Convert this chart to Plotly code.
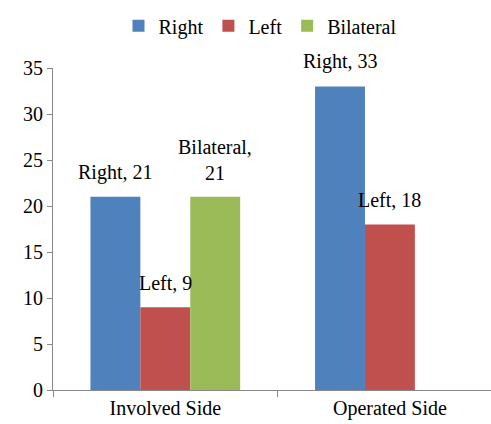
import plotly.graph_objects as go

categories = ["Involved Side", "Operated Side"]
series_names = ["Right", "Left", "Bilateral"]
right_vals = [21, 33]
left_vals = [9, 18]
bilateral_vals = [21, None]
colors = ["#4F81BD", "#C0504D", "#9BBB59"]

font_family = "Liberation Serif, Times New Roman, serif"

fig = go.Figure()
all_vals = [right_vals, left_vals, bilateral_vals]
for name, vals, col in zip(series_names, all_vals, colors):
    fig.add_trace(go.Bar(
        x=categories, y=vals, name=name, marker_color=col,
        marker_line_width=0, hoverinfo="skip",
    ))

# data labels (Excel-style "Series, value"), placed over each bar
bar_px = 50          # bar width in pixels
n = len(series_names)
for i, (name, vals) in enumerate(zip(series_names, all_vals)):
    xshift = (i - (n - 1) / 2) * bar_px
    for cat, v in zip(categories, vals):
        if v is None:
            continue
        sep = ",<br>" if name == "Bilateral" else ", "
        fig.add_annotation(
            x=cat, y=v, text=name + sep + str(v), showarrow=False,
            xshift=xshift, yshift=11,
            yanchor="bottom", xanchor="center",
            font=dict(family=font_family, size=20, color="black"),
        )

fig.update_layout(
    width=491, height=424,
    margin=dict(l=53, r=0, t=68, b=34),
    plot_bgcolor="white", paper_bgcolor="white",
    barmode="group", bargap=1/3, bargroupgap=0,
    font=dict(family=font_family, size=20, color="black"),
    legend=dict(orientation="h", x=0.4726, xanchor="center", y=0.985, yanchor="top",
                yref="container", font=dict(family=font_family, size=20),
                itemwidth=30, traceorder="normal"),
    showlegend=True,
)
fig.update_xaxes(range=[-0.5, 1.45], showline=True, linecolor="#888888", linewidth=1,
                 ticks="outside", tickson="boundaries", ticklen=6, tickcolor="#888888",
                 showgrid=False, tickfont=dict(family=font_family, size=20))
fig.update_yaxes(range=[0, 35], dtick=5, showline=True, linecolor="#888888", linewidth=1,
                 ticks="outside", ticklen=5, tickcolor="#888888", showgrid=False,
                 zeroline=False, tickfont=dict(family=font_family, size=20))

fig.write_html("out.html", config={"displayModeBar": False},
               post_script="document.body.style.margin='0';document.body.style.overflow='hidden';")
